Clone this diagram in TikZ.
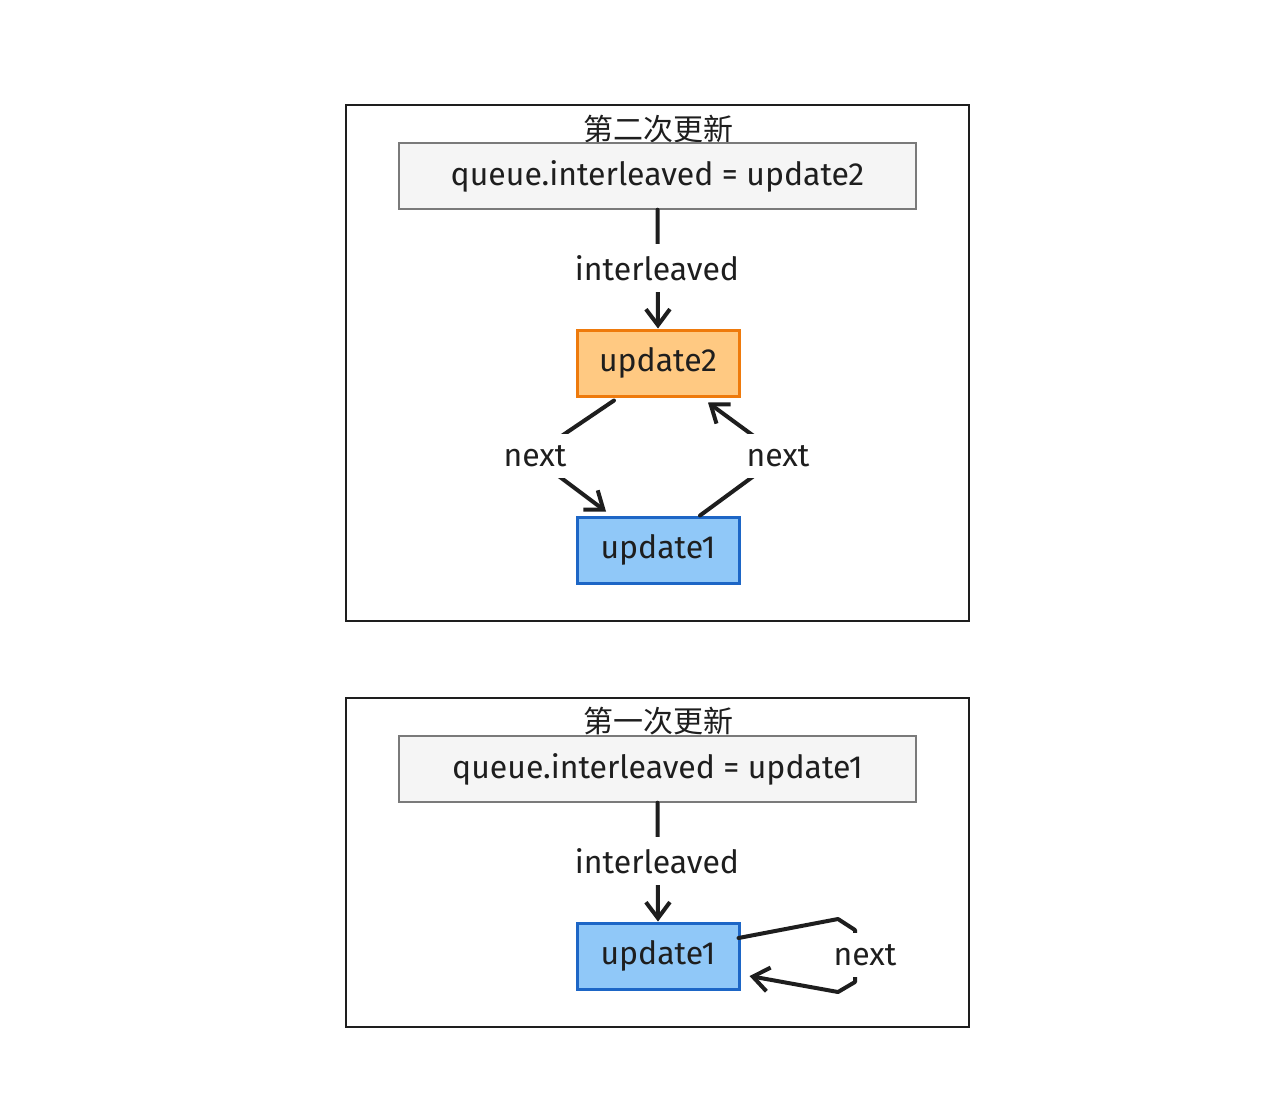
\documentclass[tikz,border=0pt]{standalone}
\usepackage{fontspec}
\setmainfont{Fira Sans}
\newfontfamily\cjk{Noto Sans CJK SC}
\usetikzlibrary{arrows.meta,calc}
\definecolor{ink}{HTML}{1E1E1E}
\definecolor{greyfill}{HTML}{F5F5F5}
\definecolor{greyline}{HTML}{7A7A7A}
\definecolor{orfill}{HTML}{FFC982}
\definecolor{orline}{HTML}{EE7A0C}
\definecolor{blfill}{HTML}{90C8F8}
\definecolor{blline}{HTML}{1D66C6}
\tikzset{
  frame/.style={draw=ink, line width=2.6pt},
  title/.style={font=\cjk\fontsize{30}{32}\selectfont, text=ink, inner sep=0pt},
  qbox/.style={draw=greyline, fill=greyfill, line width=1.4pt, minimum width=517pt, minimum height=66pt, inner sep=0pt, font=\fontsize{32}{34}\selectfont, text=ink},
  orbox/.style={draw=orline, fill=orfill, line width=3pt, minimum width=162pt, minimum height=66pt, inner sep=0pt, font=\fontsize{32}{34}\selectfont, text=ink},
  blbox/.style={draw=blline, fill=blfill, line width=3pt, minimum width=162pt, minimum height=66pt, inner sep=0pt, font=\fontsize{32}{34}\selectfont, text=ink},
  lbl/.style={fill=white, inner xsep=3pt, inner ysep=11pt, font=\fontsize{32}{34}\selectfont, text=ink},
  conn/.style={draw=ink, line width=4pt, line cap=round, line join=round},
  arr/.style={conn, -{Straight Barb[length=16pt, width=24pt, line width=4pt]}},
}
\begin{document}
\begin{tikzpicture}[x=1pt, y=-1pt]
\useasboundingbox[fill=white] (0,0) rectangle (1270,1098);

% ---------- second update ----------
\draw[frame] (346,105) rectangle (969,621);
\node[title] (t2) at (658,129) {第二次更新};
\node[qbox] (q2) at (657.5,176) {queue.interleaved = update2};
\node[orbox] (u2) at (658,363) {update2};
\node[blbox] (u1a) at (658,550) {update1};

\draw[arr] (q2.south) -- (u2.north);
\node[lbl] (il2) at (657,268) {interleaved};

\draw[arr] ($(u2.south)+(-44,3)$) -- (532,456) -- ($(u1a.north)+(-52,-4)$);
\node[lbl] (nx1) at (535,456) {next};

\draw[arr] ($(u1a.north)+(42,0)$) -- (781,456) -- ($(u2.south)+(50,5)$);
\node[lbl] (nx2) at (778,456) {next};

% ---------- first update ----------
\draw[frame] (346,698) rectangle (969,1027);
\node[title] (t1) at (658,721) {第一次更新};
\node[qbox] (q1) at (657.5,769) {queue.interleaved = update1};
\node[blbox] (u1b) at (658,956) {update1};

\draw[arr] (q1.south) -- (u1b.north);
\node[lbl] (il1) at (657,861) {interleaved};

\draw[arr] ($(u1b.east)+(-2,-18)$) -- (838,919) -- (855,930) -- (855,982) -- (838,992) -- ($(u1b.east)+(9,20)$);
\node[lbl, inner xsep=8pt] (nx3) at (865,955) {next};
\end{tikzpicture}
\end{document}
